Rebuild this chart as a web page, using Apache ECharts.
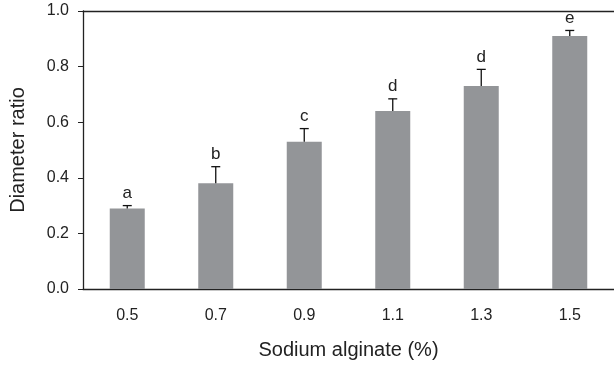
<!DOCTYPE html>
<html>
<head>
<meta charset="utf-8">
<script src="https://cdn.jsdelivr.net/npm/echarts@6/dist/echarts.min.js"></script>
<style>
  html, body { margin: 0; padding: 0; background: #fff; }
  #chart { width: 614px; height: 365px; }
</style>
</head>
<body>
<div id="chart"></div>
<script>
// Diameter ratio by sodium alginate concentration, mean + upper SD, with letter groups
const concentrations = ["0.5", "0.7", "0.9", "1.1", "1.3", "1.5"];
const diameterRatio = [0.29, 0.38, 0.53, 0.64, 0.73, 0.91];
const sdUpper = [0.01, 0.06, 0.047, 0.044, 0.06, 0.02];
const groupLetters = ["a", "b", "c", "d", "d", "e"];
const yTicks = [0, 0.2, 0.4, 0.6, 0.8, 1.0];

const FONT = "Liberation Sans, Arial, sans-serif";
const INK = "#222";
const chart = echarts.init(document.getElementById("chart"));

chart.setOption({
  animation: false,
  // plot runs slightly past the right edge of the canvas, like the source figure
  grid: { left: 82, top: 11, width: 534, bottom: 75 },
  xAxis: [
    {
      type: "category",
      data: concentrations,
      name: "Sodium alginate (%)",
      nameLocation: "middle",
      nameGap: 51,
      nameTextStyle: { color: INK, fontSize: 20, fontFamily: FONT },
      axisLine: { lineStyle: { color: INK, width: 1.3 } },
      axisTick: { show: false },
      axisLabel: { color: INK, fontSize: 16, fontFamily: FONT, margin: 19 },
    },
    {
      // top frame line only
      type: "category",
      data: concentrations,
      position: "top",
      axisLine: { show: true, lineStyle: { color: INK, width: 1.3 } },
      axisTick: { show: false },
      axisLabel: { show: false },
    },
  ],
  yAxis: {
    type: "value",
    min: yTicks[0],
    max: yTicks[yTicks.length - 1],
    interval: 0.2,
    name: "Diameter ratio",
    nameLocation: "middle",
    nameGap: 55,
    nameTextStyle: { color: INK, fontSize: 20, fontFamily: FONT },
    axisLine: { show: true, lineStyle: { color: INK, width: 1.3 } },
    axisTick: { show: true, inside: false, length: 5, lineStyle: { color: INK } },
    splitLine: { show: false },
    axisLabel: {
      color: INK, fontSize: 16, fontFamily: FONT, margin: 14,
      formatter: (v) => v.toFixed(1),
    },
  },
  series: [
    {
      type: "bar",
      data: diameterRatio,
      barWidth: 35,
      itemStyle: { color: "#939598" },
      z: 2,
    },
    {
      type: "custom",
      z: 3,
      data: diameterRatio.map((v, i) => [i, v, sdUpper[i]]),
      renderItem: (params, api) => {
        const i = api.value(0);
        const base = api.coord([i, api.value(1)]);
        const top = api.coord([i, api.value(1) + api.value(2)]);
        const stroke = { stroke: "#111", lineWidth: 1.3 };
        return {
          type: "group",
          children: [
            { type: "line", shape: { x1: base[0], y1: base[1], x2: top[0], y2: top[1] }, style: stroke },
            { type: "line", shape: { x1: top[0] - 4.5, y1: top[1], x2: top[0] + 4.5, y2: top[1] }, style: stroke },
            {
              type: "text",
              style: {
                text: groupLetters[params.dataIndex],
                x: top[0], y: top[1] - 4,
                align: "center", verticalAlign: "bottom",
                fill: INK, fontSize: 17, fontFamily: FONT,
              },
            },
          ],
        };
      },
    },
  ],
});
</script>
</body>
</html>
